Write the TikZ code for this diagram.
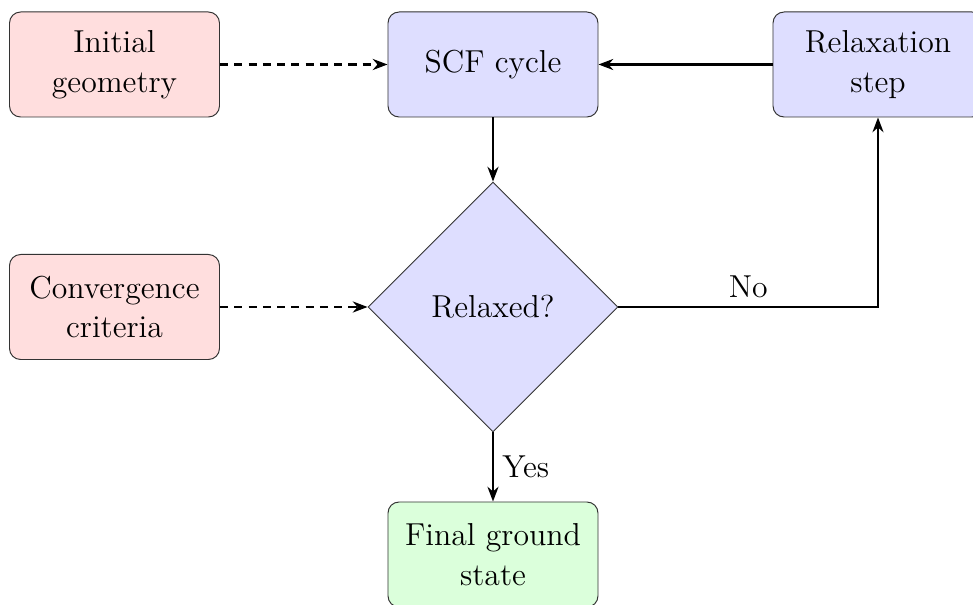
\documentclass[tikz,border=0pt]{standalone}
\usetikzlibrary{shapes.geometric,arrows.meta}
\begin{document}
\begin{tikzpicture}[x=0.1428571mm,y=-0.1428571mm,
  box/.style={draw=black!80,rounded corners=4.5pt,minimum width=30mm,minimum height=15mm,
    align=center,font=\fontsize{12.9}{16.2}\selectfont,inner sep=2pt},
  inbox/.style={box,fill=red!13},
  procbox/.style={box,fill=blue!13},
  outbox/.style={box,fill=green!14},
  decide/.style={diamond,draw=black!80,fill=blue!13,minimum width=35.7mm,minimum height=35.7mm,
    inner sep=0pt,aspect=1,font=\fontsize{12.9}{16.2}\selectfont},
  flow/.style={-{Stealth[length=6pt,width=4.5pt]},line width=0.9pt},
  dflow/.style={flow,dash pattern=on 3.3pt off 2.5pt,line width=1.2pt},
  lbl/.style={font=\fontsize{12.9}{16.2}\selectfont}]
\clip (0,0) rectangle (973,605);
\node[inbox] (init) at (114.5,64.5) {Initial\\geometry};
\node[procbox] (scf) at (493,64.5) {SCF cycle};
\node[procbox] (relax) at (878,64.5) {Relaxation\\step};
\node[inbox] (conv) at (114.5,307) {Convergence\\criteria};
\node[decide] (dec) at (493,307) {Relaxed?};
\node[outbox] (final) at (493,554.5) {Final ground\\state};
\coordinate (corner) at (relax.south |- dec.east);
\draw[dflow] (init) -- (scf);
\draw[dflow] (conv) -- (dec.west);
\draw[flow] (scf) -- (dec.north);
\draw[flow] (relax) -- (scf);
\draw[flow] (dec.east) -- node[lbl,above,pos=0.5] {No} (corner) -- (relax.south);
\draw[flow] (dec.south) -- node[lbl,right] {Yes} (final);
\end{tikzpicture}
\end{document}
